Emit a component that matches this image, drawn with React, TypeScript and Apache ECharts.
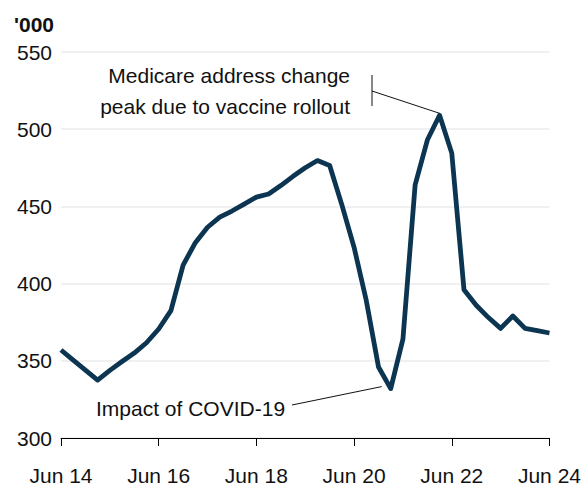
import React, { useEffect, useRef } from "react";
import * as echarts from "echarts";

const categories = [
  "Jun 14", "Sep 14", "Dec 14", "Mar 15", "Jun 15", "Sep 15", "Dec 15", "Mar 16",
  "Jun 16", "Sep 16", "Dec 16", "Mar 17", "Jun 17", "Sep 17", "Dec 17", "Mar 18",
  "Jun 18", "Sep 18", "Dec 18", "Mar 19", "Jun 19", "Sep 19", "Dec 19", "Mar 20",
  "Jun 20", "Sep 20", "Dec 20", "Mar 21", "Jun 21", "Sep 21", "Dec 21", "Mar 22",
  "Jun 22", "Sep 22", "Dec 22", "Mar 23", "Jun 23", "Sep 23", "Dec 23", "Mar 24",
  "Jun 24",
];

const values = [
  357, 350.5, 344, 337.5, 343.8, 349.5, 355, 361.7,
  370.6, 382.5, 412, 426.5, 436.5, 443, 447, 451.5,
  456, 458, 463.5, 469.5, 475, 479.7, 476.5, 451,
  423.5, 389, 346, 332, 364, 464, 493, 509,
  484.5, 396, 386, 378, 371, 379, 371, 369.5,
  368,
];

const yTicks = { min: 300, max: 550, interval: 50 };
const unitLabel = "'000";
const peakNote = "Medicare address change\npeak due to vaccine rollout";
const covidNote = "Impact of COVID-19";
const peakIndex = 31;
const troughIndex = 27;

const FONT = "'Liberation Sans', Arial, sans-serif";

export default function App() {
  const ref = useRef<HTMLDivElement>(null);
  useEffect(() => {
    document.body.style.margin = "0";
    if (!ref.current) return;
    const chart = echarts.init(ref.current, null, { renderer: "svg" });
    chart.setOption({
      animation: false,
      grid: { left: 61, right: 34, top: 52, bottom: 45 },
      xAxis: {
        type: "category",
        data: categories,
        boundaryGap: false,
        axisLine: { lineStyle: { color: "#000", width: 1 } },
        axisTick: { interval: 7, length: 8, lineStyle: { color: "#000" } },
        axisLabel: {
          interval: 7,
          color: "#111",
          fontSize: 21,
          fontFamily: FONT,
          margin: 27,
        },
        splitLine: { show: false },
      },
      yAxis: {
        type: "value",
        min: yTicks.min,
        max: yTicks.max,
        interval: yTicks.interval,
        axisLine: { show: false },
        axisTick: { show: false },
        axisLabel: { color: "#111", fontSize: 21, fontFamily: FONT, margin: 9 },
        splitLine: { lineStyle: { color: "#ebebeb", width: 1.5 } },
      },
      series: [
        {
          type: "line",
          data: values,
          symbol: "none",
          lineStyle: { color: "#0c3552", width: 4.8, join: "round" },
        },
      ],
    });
    const peak = chart.convertToPixel({ seriesIndex: 0 }, [peakIndex, values[peakIndex]]) as number[];
    const trough = chart.convertToPixel({ seriesIndex: 0 }, [troughIndex, values[troughIndex]]) as number[];
    chart.setOption({
      graphic: [
        {
          type: "text",
          left: 14,
          top: 14,
          style: { text: unitLabel, font: `bold 21px ${FONT}`, fill: "#111" },
        },
        {
          type: "text",
          x: 350,
          y: 60,
          style: {
            text: peakNote,
            font: `21px ${FONT}`,
            fill: "#111",
            align: "right",
            verticalAlign: "top",
            lineHeight: 31,
          },
        },
        {
          type: "line",
          shape: { x1: 372, y1: 75, x2: 372, y2: 106 },
          style: { stroke: "#111", lineWidth: 1 },
        },
        {
          type: "line",
          shape: { x1: 372, y1: 91, x2: peak[0], y2: peak[1] - 2 },
          style: { stroke: "#111", lineWidth: 1 },
        },
        {
          type: "text",
          x: 96,
          y: 408,
          style: {
            text: covidNote,
            font: `21px ${FONT}`,
            fill: "#111",
            align: "left",
            verticalAlign: "middle",
          },
        },
        {
          type: "line",
          shape: { x1: 292, y1: 405, x2: trough[0] - 9, y2: trough[1] - 2 },
          style: { stroke: "#111", lineWidth: 1 },
        },
      ],
    });
    return () => chart.dispose();
  }, []);
  return <div ref={ref} style={{ width: 584, height: 486 }} />;
}
